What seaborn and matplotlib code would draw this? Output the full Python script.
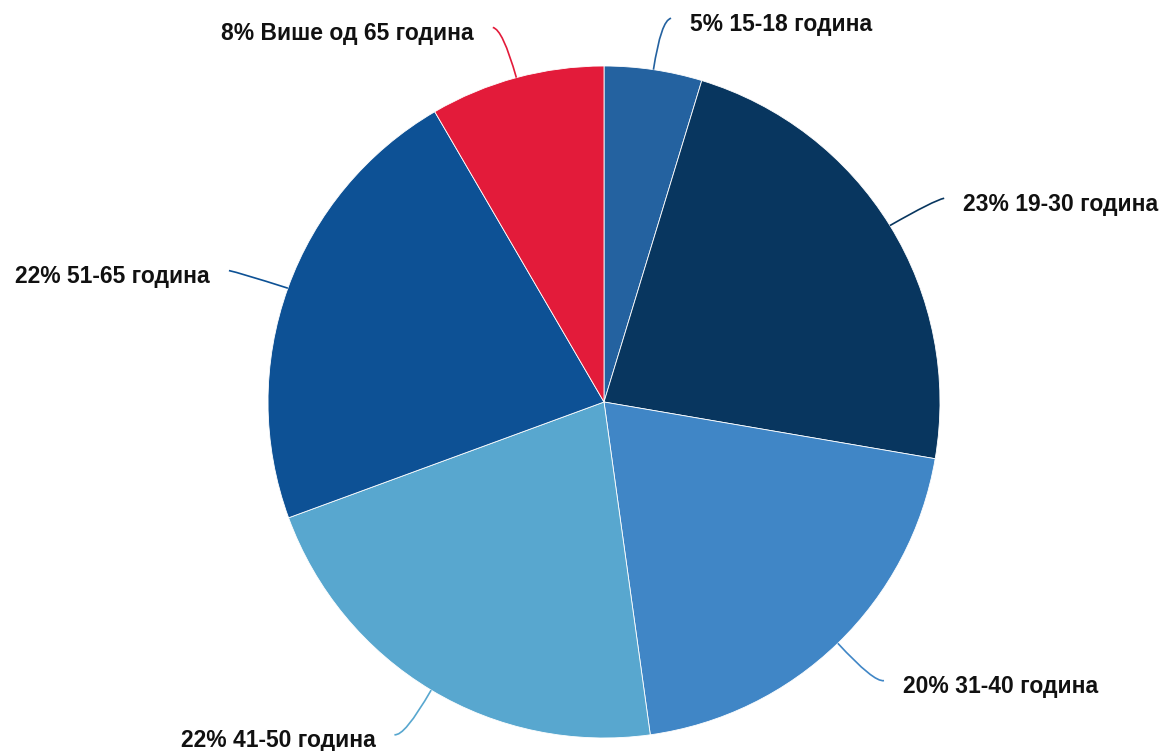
import numpy as np
import matplotlib
matplotlib.use("Agg")
import matplotlib.pyplot as plt
from matplotlib.path import Path
from matplotlib.patches import PathPatch
import seaborn as sns

# Age groups of respondents (share, %)
groups = ["15-18 година", "19-30 година", "31-40 година",
          "41-50 година", "51-65 година", "Више од 65 година"]
shares = [4.7, 23.0, 20.1, 21.6, 22.2, 8.4]
colors = ["#2462a0", "#08365f", "#4086c6", "#58a7cf", "#0d5195", "#e31b3a"]

sns.set_theme(style="white")
plt.rcParams["font.family"] = ["Liberation Sans", "DejaVu Sans"]

W, H = 1162, 751
fig = plt.figure(figsize=(W / 100, H / 100), dpi=100)
ax = fig.add_axes([0, 0, 1, 1])

cx, cy, R = 604, H - 402, 336
ax.pie(shares, colors=colors, startangle=90, counterclock=False,
       radius=R, center=(cx, cy), frame=True,
       wedgeprops=dict(edgecolor="white", linewidth=0.6))
ax.set_xlim(0, W)
ax.set_ylim(0, H)
ax.set_aspect("equal")
ax.axis("off")

# Curved connectors and data labels
total = sum(shares)
cum = 0.0
for g, v, c in zip(groups, shares, colors):
    mid = (cum + v / 2) / total * 2 * np.pi
    cum += v
    sx, sy = np.sin(mid), np.cos(mid)
    p0 = (cx + R * sx, cy + R * sy)
    d = 52
    p1 = (cx + (R + d) * sx, cy + (R + d) * sy - 2)
    side = 1 if sx >= 0 else -1
    p2 = (p1[0] + side * 10, p1[1] + 2)
    path = Path([p0, p1, p2], [Path.MOVETO, Path.CURVE3, Path.CURVE3])
    ax.add_patch(PathPatch(path, fill=False, edgecolor=c, linewidth=1.2))
    label = f"{v / total * 100:.0f}% {g}"
    ax.text(p2[0] + side * 19, p2[1] - 6, label,
            ha="left" if side > 0 else "right", va="center",
            fontsize=16.5, fontweight="bold", color="#111111")

fig.savefig("out.png", dpi=100)
